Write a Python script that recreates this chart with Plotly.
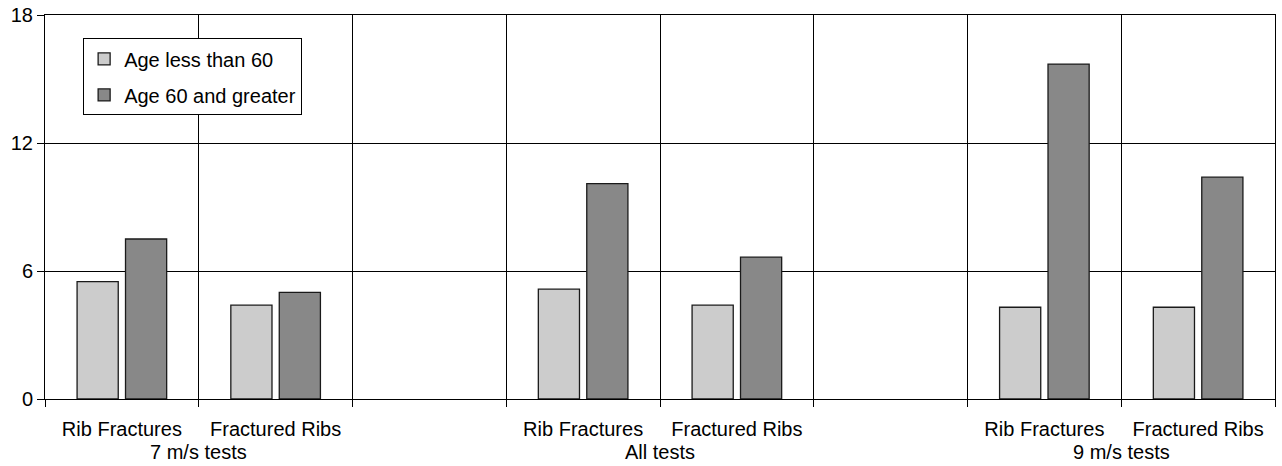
import plotly.graph_objects as go

# ---- data ----
group_labels = ["7 m/s tests", "All tests", "9 m/s tests"]
measure_labels = ["Rib Fractures", "Fractured Ribs"]
age_under_60 = [5.5, 4.4, 5.15, 4.4, 4.3, 4.3]
age_60_plus = [7.5, 5.0, 10.1, 6.65, 15.7, 10.4]
y_ticks = [0, 6, 12, 18]

# ---- build slot layout (two measures per group + one empty spacer slot) ----
slots_per_group = len(measure_labels) + 1
n_slots = len(group_labels) * slots_per_group - 1
xs, tick_text = [], []
for g, _ in enumerate(group_labels):
    for m, lab in enumerate(measure_labels):
        xs.append(g * slots_per_group + m)
        tick_text.append(lab)
group_centers = [g * slots_per_group + (len(measure_labels) - 1) / 2 for g in range(len(group_labels))]

FONT = "Liberation Sans, Arial, sans-serif"
EDGE = "#1a1a1a"

fig = go.Figure()
fig.add_trace(go.Bar(
    x=xs, y=age_under_60, name="Age less than 60",
    marker=dict(color="#cccccc", line=dict(color=EDGE, width=1.3)),
    legendgroup="a",
))
fig.add_trace(go.Bar(
    x=xs, y=age_60_plus, name="Age 60 and greater",
    marker=dict(color="#888888", line=dict(color=EDGE, width=1.3)),
    legendgroup="b",
))

for gx, gl in zip(group_centers, group_labels):
    fig.add_annotation(x=gx, y=0, xref="x", yref="paper", text=gl, showarrow=False,
                       yanchor="top", yshift=-40, font=dict(family=FONT, size=20, color="black"))

fig.update_layout(
    width=1282, height=466,
    margin=dict(l=45, r=7, t=15, b=67, autoexpand=False),
    paper_bgcolor="white", plot_bgcolor="white",
    barmode="group", bargap=0.37, bargroupgap=0.15,
    font=dict(family=FONT, size=20, color="black"),
    showlegend=True,
    legend=dict(
        x=0.031, y=0.939, xanchor="left", yanchor="top",
        bgcolor="white", bordercolor="black", borderwidth=1,
        font=dict(family=FONT, size=20, color="black"),
        traceorder="grouped", tracegroupgap=7,
    ),
    xaxis=dict(
        range=[-0.5, n_slots - 0.5],
        tickmode="array", tickvals=xs, ticktext=tick_text,
        ticks="", showgrid=False, zeroline=False, automargin=False,
        showline=True, linecolor="black", linewidth=1, mirror=True,
        ticklabelstandoff=12,
        minor=dict(tickmode="linear", tick0=-0.5, dtick=1, showgrid=True,
                   gridcolor="black", gridwidth=1, ticks="outside", ticklen=7,
                   tickcolor="black"),
    ),
    yaxis=dict(
        range=[0, 18], tickmode="array", tickvals=y_ticks,
        showgrid=True, gridcolor="black", gridwidth=1, automargin=False,
        ticks="outside", ticklen=7, tickcolor="black",
        showline=True, linecolor="black", linewidth=1, mirror=True,
        zeroline=False,
    ),
)

fig.write_html("out.html", config={"displayModeBar": False},
               post_script="document.body.style.margin='0px';")
